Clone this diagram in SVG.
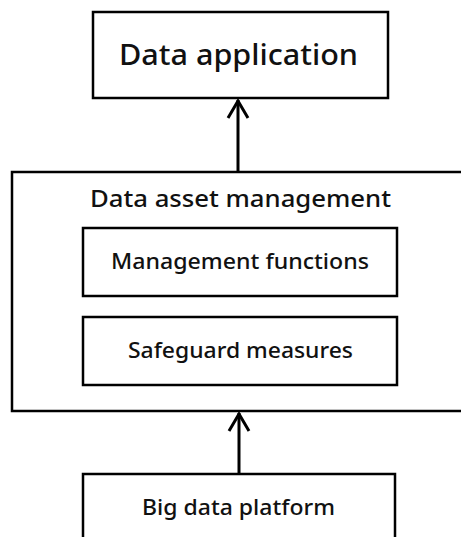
<svg xmlns="http://www.w3.org/2000/svg" width="461" height="537" viewBox="0 0 461 537">
<style>
.box{fill:#fff;stroke:#000;stroke-width:2.5}
.t{font-family:"Noto Sans","Open Sans",sans-serif;font-weight:500;fill:#111;text-anchor:middle}
.c{stroke:#000;stroke-width:3;fill:none}
</style>
<defs>
<marker id="ah" markerUnits="userSpaceOnUse" markerWidth="26" markerHeight="26" refX="24" refY="13" orient="auto" viewBox="0 0 26 26">
<path d="M6,3 L23,13 L6,23" fill="none" stroke="#000" stroke-width="3"/>
</marker>
</defs>
<rect x="0" y="0" width="461" height="537" fill="#fff"/>
<g id="data-application">
<rect class="box" x="93" y="12" width="295" height="86"/>
<text class="t" x="238.5" y="65" font-size="29" textLength="239" lengthAdjust="spacingAndGlyphs">Data application</text>
</g>
<g id="data-asset-management">
<rect class="box" x="12" y="172" width="460" height="239"/>
<text class="t" x="240.5" y="207" font-size="24" textLength="301" lengthAdjust="spacingAndGlyphs">Data asset management</text>
</g>
<g id="management-functions">
<rect class="box" x="83" y="228" width="314" height="68"/>
<text class="t" x="240" y="269" font-size="21" textLength="258" lengthAdjust="spacingAndGlyphs">Management functions</text>
</g>
<g id="safeguard-measures">
<rect class="box" x="83" y="317" width="314" height="68"/>
<text class="t" x="240.5" y="358" font-size="21" textLength="225" lengthAdjust="spacingAndGlyphs">Safeguard measures</text>
</g>
<g id="big-data-platform">
<rect class="box" x="83" y="474" width="312" height="80"/>
<text class="t" x="238.5" y="515" font-size="21" textLength="193" lengthAdjust="spacingAndGlyphs">Big data platform</text>
</g>
<g id="connectors">
<line class="c" x1="238" y1="172" x2="238" y2="100" marker-end="url(#ah)"/>
<line class="c" x1="239" y1="474" x2="239" y2="413" marker-end="url(#ah)"/>
</g>
</svg>
